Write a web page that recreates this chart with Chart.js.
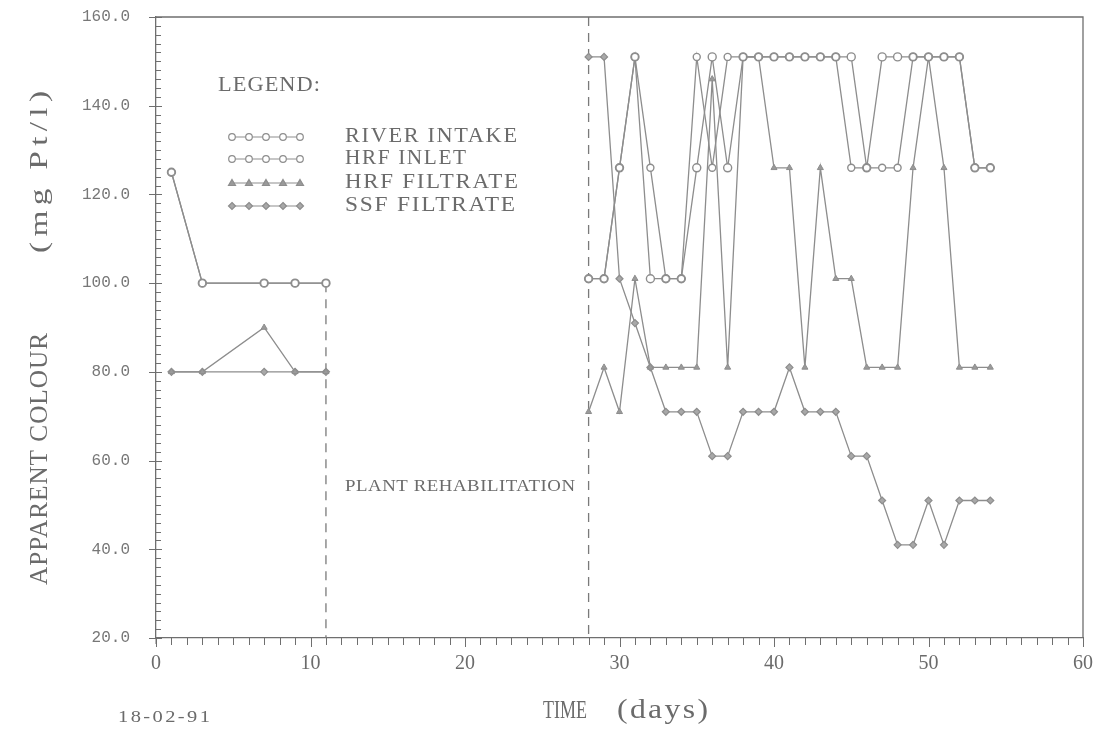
<!DOCTYPE html>
<html>
<head>
<meta charset="utf-8">
<script src="https://cdn.jsdelivr.net/npm/chart.js@4/dist/chart.umd.min.js"></script>
<style>
html,body{margin:0;padding:0;background:#ffffff;}
#wrap{width:1099px;height:730px;position:relative;}
</style>
</head>
<body>
<div id="wrap"><canvas id="c" width="1099" height="730"></canvas></div>
<script>
// ---------------- DATA ----------------
const seriesNames = ['RIVER INTAKE', 'HRF INLET', 'HRF FILTRATE', 'SSF FILTRATE'];

// before plant rehabilitation
const leftDays = [1, 3, 7, 9, 11];
const riverIntakeLeft = [125, 100, 100, 100, 100];
const hrfInletLeft = [125, 100, 100, 100, 100];
const hrfFiltrateLeft = [80, 80, 90, 80, 80];
const ssfFiltrateLeft = [80, 80, 80, 80, 80];

// after plant rehabilitation
const rightDays = [28, 29, 30, 31, 32, 33, 34, 35, 36, 37, 38, 39, 40, 41, 42, 43, 44, 45, 46, 47, 48, 49, 50, 51, 52, 53, 54];
const riverIntakeRight = [101, 101, 126, 151, 126, 101, 101, 151, 126, 151, 151, 151, 151, 151, 151, 151, 151, 126, 126, 126, 126, 151, 151, 151, 151, 126, 126];
const hrfInletRight = [101, 101, 126, 151, 101, 101, 101, 126, 151, 126, 151, 151, 151, 151, 151, 151, 151, 151, 126, 151, 151, 151, 151, 151, 151, 126, 126];
const hrfFiltrateRight = [71, 81, 71, 101, 81, 81, 81, 81, 146, 81, 151, 151, 126, 126, 81, 126, 101, 101, 81, 81, 81, 126, 151, 126, 81, 81, 81];
const ssfFiltrateRight = [151, 151, 101, 91, 81, 71, 71, 71, 61, 61, 71, 71, 71, 81, 71, 71, 71, 61, 61, 51, 41, 41, 51, 41, 51, 51, 51];

// gap (no sampling during rehabilitation)
const gapDay = 20;

// rehabilitation markers
const dividerDays = [11, 28];
const dividerTops = [100, 160];

// axes
const xMin = 0, xMax = 60, xStep = 10;
const yMin = 20, yMax = 160, yStep = 20;

// ---------------- BUILD ----------------
function series(leftY, rightY) {
  const pts = leftDays.map((d, i) => ({x: d, y: leftY[i]}));
  pts.push({x: gapDay, y: null});
  rightDays.forEach((d, i) => pts.push({x: d, y: rightY[i]}));
  return pts;
}

const LINE = '#8d8d8d';
const TEXT = '#6b6b6b';

const datasets = [
  {label: seriesNames[0], data: series(riverIntakeLeft, riverIntakeRight), pointStyle: 'circle', pointRadius: 3.5, pointBackgroundColor: '#ffffff', pointBorderColor: LINE, pointBorderWidth: 1.4},
  {label: seriesNames[1], data: series(hrfInletLeft, hrfInletRight), pointStyle: 'circle', pointRadius: 4, pointBackgroundColor: '#ffffff', pointBorderColor: LINE, pointBorderWidth: 1.4},
  {label: seriesNames[2], data: series(hrfFiltrateLeft, hrfFiltrateRight), pointStyle: 'triangle', pointRadius: 3.5, pointBackgroundColor: '#9a9a9a', pointBorderColor: LINE, pointBorderWidth: 1},
  {label: seriesNames[3], data: series(ssfFiltrateLeft, ssfFiltrateRight), pointStyle: 'rectRot', pointRadius: 3.5, pointBackgroundColor: '#a8a8a8', pointBorderColor: LINE, pointBorderWidth: 1.2}
].map(d => Object.assign({borderColor: LINE, borderWidth: 1.3, spanGaps: false, tension: 0, fill: false}, d));

dividerDays.forEach((d, i) => {
  datasets.push({label: 'divider' + i, data: [{x: d, y: dividerTops[i]}, {x: d, y: yMin}], borderColor: '#7a7a7a', borderWidth: 1.3, borderDash: [9, 7], pointRadius: 0, fill: false});
});

// draw text with a fixed letter spacing, then scale horizontally to the target width
function spacedText(ctx, text, x, y, size, width, ls, family) {
  ctx.save();
  ctx.font = size + 'px ' + (family || '"Liberation Serif"');
  ctx.textAlign = 'left';
  ctx.textBaseline = 'middle';
  ctx.letterSpacing = (ls || 0) + 'px';
  const w = ctx.measureText(text).width - (ls || 0);
  ctx.translate(x, y);
  ctx.scale(width / w, 1);
  ctx.fillText(text, 0, 0);
  ctx.restore();
}

function marker(ctx, style, x, y) {
  ctx.save();
  ctx.strokeStyle = LINE;
  ctx.lineWidth = 1.2;
  ctx.beginPath();
  if (style === 'circle') {
    ctx.arc(x, y, 3.3, 0, Math.PI * 2);
    ctx.fillStyle = '#fff'; ctx.fill(); ctx.stroke();
  } else if (style === 'triangle') {
    ctx.moveTo(x, y - 3.5); ctx.lineTo(x + 3.5, y + 2.5); ctx.lineTo(x - 3.5, y + 2.5); ctx.closePath();
    ctx.fillStyle = '#9a9a9a'; ctx.fill(); ctx.stroke();
  } else {
    ctx.moveTo(x, y - 3.5); ctx.lineTo(x + 3.5, y); ctx.lineTo(x, y + 3.5); ctx.lineTo(x - 3.5, y); ctx.closePath();
    ctx.fillStyle = '#a8a8a8'; ctx.fill(); ctx.stroke();
  }
  ctx.restore();
}

const decor = {
  id: 'decor',
  afterDraw(chart) {
    const ctx = chart.ctx;
    const a = chart.chartArea;
    const xs = chart.scales.x, ys = chart.scales.y;
    ctx.save();
    ctx.strokeStyle = '#6f6f6f';
    ctx.lineWidth = 1.3;
    // frame top + right
    ctx.beginPath();
    ctx.moveTo(a.left, a.top); ctx.lineTo(a.right, a.top); ctx.lineTo(a.right, a.bottom);
    ctx.stroke();
    // x minor ticks (every day), hanging below axis
    ctx.lineWidth = 1;
    ctx.beginPath();
    for (let v = xMin; v <= xMax; v += 1) {
      const px = Math.round(xs.getPixelForValue(v)) + 0.5;
      ctx.moveTo(px, a.bottom); ctx.lineTo(px, a.bottom + (v % xStep === 0 ? 9 : 7));
    }
    // y minor ticks (every 2), pointing inward; majors across
    for (let v = yMin; v <= yMax; v += 2) {
      const py = Math.round(ys.getPixelForValue(v)) + 0.5;
      if (v % yStep === 0) { ctx.moveTo(a.left - 7, py); ctx.lineTo(a.left + 6, py); }
      else { ctx.moveTo(a.left, py); ctx.lineTo(a.left + 5, py); }
    }
    ctx.stroke();
    ctx.beginPath(); ctx.moveTo(a.left, a.bottom); ctx.lineTo(a.left, a.bottom + 6); ctx.stroke();

    ctx.fillStyle = TEXT;
    // axis titles
    ctx.save();
    ctx.translate(40, 585);
    ctx.rotate(-Math.PI / 2);
    spacedText(ctx, 'APPARENT COLOUR', 0, 0, 25, 252, 1);
    spacedText(ctx, '(mg Pt/l)', 332, 0, 25, 162, 4);
    ctx.restore();
    spacedText(ctx, 'TIME', 543, 711, 25, 44, 0);
    spacedText(ctx, '(days)', 617, 711, 27, 91, 2);
    spacedText(ctx, '18-02-91', 118, 718, 17, 92, 2);

    // annotation
    spacedText(ctx, 'PLANT REHABILITATION', 345, 487, 17, 230, 0.5);

    // legend
    spacedText(ctx, 'LEGEND:', 218, 85, 21, 102, 1);
    const rows = [137, 159, 183, 206];
    const widths = [172, 121, 173, 170];
    const styles = ['circle', 'circle', 'triangle', 'diamond'];
    rows.forEach((ry, i) => {
      ctx.save();
      ctx.strokeStyle = LINE; ctx.lineWidth = 1.2;
      ctx.beginPath(); ctx.moveTo(232, ry); ctx.lineTo(300, ry); ctx.stroke();
      ctx.restore();
      for (let k = 0; k < 5; k++) marker(ctx, styles[i], 232 + k * 17, ry);
      ctx.fillStyle = TEXT;
      spacedText(ctx, seriesNames[i], 345, ry, 20, widths[i], 1.5);
    });
    ctx.restore();
  }
};

new Chart(document.getElementById('c'), {
  type: 'line',
  data: {datasets},
  plugins: [decor],
  options: {
    responsive: false,
    animation: false,
    devicePixelRatio: 1,
    layout: {padding: {left: 0, right: 16, top: 17, bottom: 0}},
    plugins: {legend: {display: false}, tooltip: {enabled: false}},
    scales: {
      x: {
        type: 'linear', min: xMin, max: xMax,
        afterFit: s => { s.height = 92; },
        ticks: {stepSize: xStep, autoSkip: false, maxRotation: 0, padding: 0, color: TEXT, font: {family: '"Liberation Serif"', size: 20}},
        grid: {display: true, drawOnChartArea: false, drawTicks: true, tickLength: 14, tickColor: 'rgba(0,0,0,0)'},
        border: {display: true, color: '#6f6f6f', width: 1.3}
      },
      y: {
        type: 'linear', min: yMin, max: yMax,
        afterFit: s => { s.width = 156; },
        ticks: {stepSize: yStep, autoSkip: false, padding: 0, color: '#777', font: {family: '"Liberation Mono"', size: 16}, callback: v => Number(v).toFixed(1)},
        grid: {display: true, drawOnChartArea: false, drawTicks: true, tickLength: 26, tickColor: 'rgba(0,0,0,0)'},
        border: {display: true, color: '#6f6f6f', width: 1.3}
      }
    }
  }
});
</script>
</body>
</html>
